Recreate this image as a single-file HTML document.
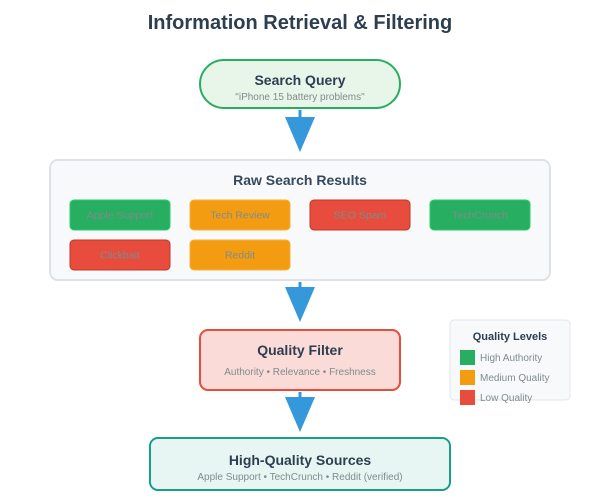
<!DOCTYPE html>
<html><head><meta charset="utf-8"><style>body{margin:0;background:#fff}svg{display:block;font-family:"Liberation Sans",Arial,sans-serif}</style></head>
<body>
<svg width="600" height="500" viewBox="0 0 600 500" xmlns="http://www.w3.org/2000/svg">
<text x="300" y="29" text-anchor="middle" font-size="20" font-weight="bold" fill="#2c3e50">Information Retrieval &amp; Filtering</text>

<rect x="200" y="60" width="200" height="48" rx="24" fill="#e8f5e9" stroke="#27ae60" stroke-width="2"/>
<text x="300" y="85" text-anchor="middle" font-size="14" font-weight="bold" fill="#2c3e50">Search Query</text>
<text x="300" y="100" text-anchor="middle" font-size="10" fill="#7f8c8d">"iPhone 15 battery problems"</text>

<g fill="#3498db" stroke="#3498db">
<line x1="300" y1="110" x2="300" y2="122" stroke-width="3"/>
<polygon points="285,117 315,117 300,152" stroke="none"/>
<line x1="300" y1="282" x2="300" y2="292" stroke-width="3"/>
<polygon points="285,287 315,287 300,322" stroke="none"/>
<line x1="300" y1="392" x2="300" y2="402" stroke-width="3"/>
<polygon points="285,397 315,397 300,432" stroke="none"/>
</g>

<rect x="50" y="160" width="500" height="120" rx="8" fill="#f8f9fa" stroke="#dee2e6" stroke-width="2"/>
<text x="300" y="185" text-anchor="middle" font-size="14" font-weight="bold" fill="#34495e">Raw Search Results</text>
<g font-size="10.5" fill="#7f8c8d" text-anchor="middle">
<rect x="70" y="200" width="100" height="30" rx="4" fill="#27ae60" stroke="#2ecc71"/><text x="120" y="218.5">Apple Support</text>
<rect x="190" y="200" width="100" height="30" rx="4" fill="#f39c12" stroke="#f5b041"/><text x="240" y="218.5">Tech Review</text>
<rect x="310" y="200" width="100" height="30" rx="4" fill="#e74c3c" stroke="#c0392b"/><text x="360" y="218.5">SEO Spam</text>
<rect x="430" y="200" width="100" height="30" rx="4" fill="#27ae60" stroke="#2ecc71"/><text x="480" y="218.5">TechCrunch</text>
<rect x="70" y="240" width="100" height="30" rx="4" fill="#e74c3c" stroke="#c0392b"/><text x="120" y="258.5">Clickbait</text>
<rect x="190" y="240" width="100" height="30" rx="4" fill="#f39c12" stroke="#f5b041"/><text x="240" y="258.5">Reddit</text>
</g>

<rect x="200" y="330" width="200" height="60" rx="8" fill="#fadbd8" stroke="#e74c3c" stroke-width="2"/>
<text x="300" y="355" text-anchor="middle" font-size="14" font-weight="bold" fill="#2c3e50">Quality Filter</text>
<text x="300" y="375" text-anchor="middle" font-size="10" fill="#7f8c8d">Authority • Relevance • Freshness</text>

<rect x="150" y="438" width="300" height="52" rx="8" fill="#e8f6f3" stroke="#16a085" stroke-width="2"/>
<text x="300" y="465" text-anchor="middle" font-size="14" font-weight="bold" fill="#2c3e50">High-Quality Sources</text>
<text x="300" y="480" text-anchor="middle" font-size="10" fill="#7f8c8d">Apple Support • TechCrunch • Reddit (verified)</text>

<rect x="450" y="320" width="120" height="80" rx="4" fill="#f8f9fa" stroke="#e0e6ea"/>
<text x="510" y="340" text-anchor="middle" font-size="11" font-weight="bold" fill="#2c3e50">Quality Levels</text>
<rect x="460" y="350" width="15" height="15" fill="#27ae60"/><text x="480" y="361" font-size="10" fill="#7f8c8d">High Authority</text>
<rect x="460" y="370" width="15" height="15" fill="#f39c12"/><text x="480" y="381" font-size="10" fill="#7f8c8d">Medium Quality</text>
<rect x="460" y="390" width="15" height="15" fill="#e74c3c"/><text x="480" y="401" font-size="10" fill="#7f8c8d">Low Quality</text>
</svg>
</body></html>
